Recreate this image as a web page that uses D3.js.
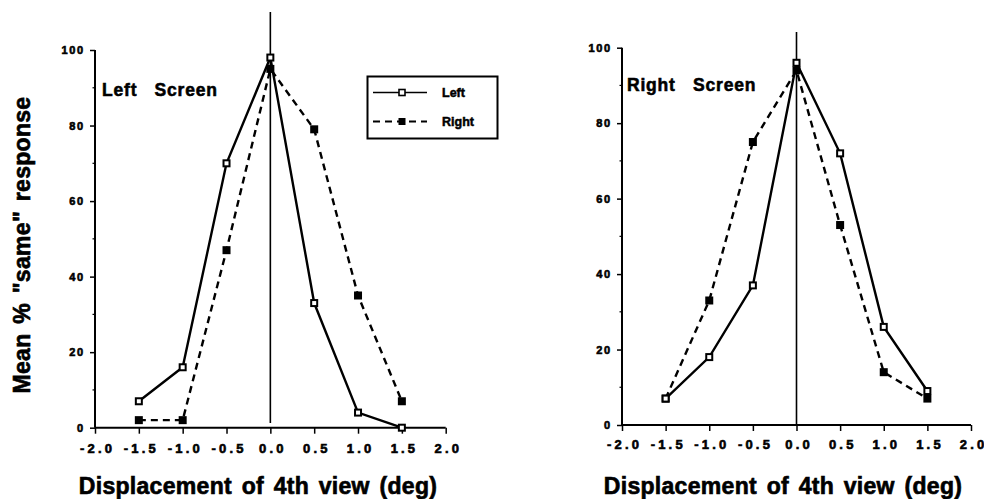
<!DOCTYPE html>
<html><head><meta charset="utf-8">
<script src="https://cdn.jsdelivr.net/npm/d3@7"></script>
<style>
body{margin:0;background:#fff;}
svg text{font-family:"Liberation Sans",Arial,sans-serif;font-weight:700;fill:#000;}
</style></head>
<body><svg id="c" width="984" height="499"></svg>
<script>
const xValues = [-1.5, -1.0, -0.5, 0.0, 0.5, 1.0, 1.5];
const xTicks = [-2.0, -1.5, -1.0, -0.5, 0.0, 0.5, 1.0, 1.5, 2.0];
const yTicks = [0, 20, 40, 60, 80, 100];
const yMinor = [10, 30, 50, 70, 90];
const seriesNames = ["Left", "Right"];
const leftScreenLeft  = [7, 16, 70, 98, 33, 4, 0];
const leftScreenRight = [2, 2, 47, 95, 79, 35, 7];
const rightScreenLeft  = [7, 18, 37, 96, 72, 26, 9];
const rightScreenRight = [7, 33, 75, 94, 53, 14, 7];
const panelTitles = ["Left  Screen", "Right  Screen"];
const xTitle = "Displacement of 4th view (deg)";
const yTitle = "Mean % \"same\" response";

const svg = d3.select("#c");

// draw text with explicit per-character spacing
function spacedText(parent, str, x, y, size, spacing, anchor, sw){
  const t = parent.append("text").attr("y",y).attr("font-size",size)
    .attr("stroke","#000").attr("stroke-width",sw);
  const chars = str.split("");
  const W = {"-":0.333,".":0.278};
  const widths = chars.map(c=>(W[c]||0.556)*size);
  const total = d3.sum(widths) + spacing*(chars.length-1);
  let start = anchor==="middle" ? x-total/2 : anchor==="end" ? x-total : x;
  const xs = [];
  chars.forEach((c,i)=>{ xs.push(start); start += widths[i]+spacing; });
  t.attr("x", xs.join(" ")).text(str);
  return t;
}

function panel(cfg){
  const g = svg.append("g");
  const x = d3.scaleLinear().domain([-2,2]).range([cfg.x0, cfg.x1]);
  const y = d3.scaleLinear().domain([0,100]).range([cfg.y0, cfg.y1]);

  const ya = g.append("g").attr("transform",`translate(${cfg.x0},0)`)
    .call(d3.axisLeft(y).tickValues(yTicks).tickSize(5).tickFormat(""));
  ya.select(".domain").attr("stroke-width",2).attr("d",`M-0,${cfg.y1}V${cfg.y0}`);
  ya.selectAll(".tick line").attr("stroke-width",1.5);
  yTicks.forEach(v=>spacedText(g, String(v), cfg.x0-12, y(v)+4, 11, 1.6, "end", 0.6));
  g.append("g").selectAll("line").data(yMinor).join("line")
    .attr("x1",cfg.x0-2.5).attr("x2",cfg.x0).attr("y1",d=>y(d)).attr("y2",d=>y(d))
    .attr("stroke","#000").attr("stroke-width",1.2);

  const xa = g.append("g").attr("transform",`translate(0,${cfg.y0})`)
    .call(d3.axisBottom(x).tickValues(xTicks).tickSize(6).tickFormat(""));
  xa.select(".domain").attr("stroke-width",2).attr("d",`M${cfg.x0},0H${cfg.x1}`);
  xa.selectAll(".tick line").attr("stroke-width",1.5);
  xTicks.forEach(v=>spacedText(g, v.toFixed(1), x(v)+1, cfg.y0+cfg.xlabDy, 13, 3.2, "middle", 0.6));

  g.append("line").attr("x1",x(0)).attr("x2",x(0))
    .attr("y1",cfg.zTop).attr("y2",cfg.zBot)
    .attr("stroke","#000").attr("stroke-width",1.6);

  const line = d3.line().x((d,i)=>x(xValues[i])).y(d=>y(d));
  g.append("path").datum(cfg.right).attr("d",line).attr("fill","none")
    .attr("stroke","#000").attr("stroke-width",2.4).attr("stroke-dasharray","7,5");
  g.append("path").datum(cfg.left).attr("d",line).attr("fill","none")
    .attr("stroke","#000").attr("stroke-width",2.4);
  const s = 8;
  g.append("g").selectAll("rect").data(cfg.right).join("rect")
    .attr("x",(d,i)=>x(xValues[i])-s/2).attr("y",d=>y(d)-s/2)
    .attr("width",s).attr("height",s).attr("fill","#000");
  g.append("g").selectAll("rect").data(cfg.left).join("rect")
    .attr("x",(d,i)=>x(xValues[i])-s/2+1).attr("y",d=>y(d)-s/2+1)
    .attr("width",s-2).attr("height",s-2).attr("fill","#fff")
    .attr("stroke","#000").attr("stroke-width",2);

  g.append("text").attr("x",cfg.titleX).attr("y",cfg.titleY)
    .style("font-size","17.5px").style("letter-spacing","0.8px").style("word-spacing","3px")
    .attr("stroke","#000").attr("stroke-width",0.55)
    .attr("xml:space","preserve").text(cfg.title);

  g.append("text").attr("x",cfg.xTitleX).attr("y",494).attr("text-anchor","middle")
    .style("font-size","23px").style("letter-spacing","0.3px").style("word-spacing","3px")
    .attr("stroke","#000").attr("stroke-width",0.65)
    .text(xTitle);
  return {x,y};
}

panel({x0:95, x1:445.7, y0:427.7, y1:50, zTop:12, zBot:423, xlabDy:25,
  left:leftScreenLeft, right:leftScreenRight, title:panelTitles[0],
  titleX:102, titleY:95.5, xTitleX:258});
panel({x0:622, x1:971, y0:425, y1:47.7, zTop:32, zBot:425, xlabDy:24.3,
  left:rightScreenLeft, right:rightScreenRight, title:panelTitles[1],
  titleX:627, titleY:90.5, xTitleX:783});

svg.append("text").attr("transform","translate(30,245) rotate(-90)")
  .attr("text-anchor","middle")
  .style("font-size","23px").style("letter-spacing","0.3px").style("word-spacing","3px")
  .attr("stroke","#000").attr("stroke-width",0.65)
  .text(yTitle);

const lg = svg.append("g");
lg.append("rect").attr("x",367.5).attr("y",76.5).attr("width",130).attr("height",62)
  .attr("fill","#fff").attr("stroke","#000").attr("stroke-width",2);
const rows = [{name:seriesNames[0], y:92.5, dash:null, open:true},
              {name:seriesNames[1], y:121.5, dash:"7,5", open:false}];
rows.forEach(r=>{
  lg.append("line").attr("x1",373).attr("x2",427).attr("y1",r.y).attr("y2",r.y)
    .attr("stroke","#000").attr("stroke-width",r.open?1.6:2).attr("stroke-dasharray",r.dash);
  if(r.open){
    lg.append("rect").attr("x",399).attr("y",r.y-3).attr("width",6).attr("height",6)
      .attr("fill","#fff").attr("stroke","#000").attr("stroke-width",1.6);
  } else {
    lg.append("rect").attr("x",398.5).attr("y",r.y-3.5).attr("width",7).attr("height",7).attr("fill","#000");
  }
  lg.append("text").attr("x",442).attr("y",r.y+4.5).style("font-size","12.5px")
    .attr("stroke","#000").attr("stroke-width",0.5).text(r.name);
});
</script></body></html>
